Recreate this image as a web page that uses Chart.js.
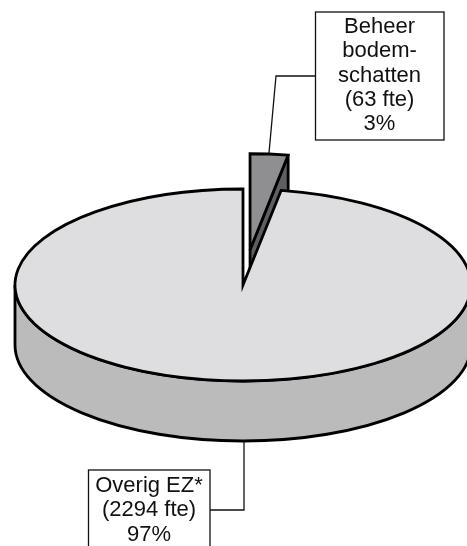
<!DOCTYPE html>
<html>
<head>
<meta charset="utf-8">
<style>
html,body{margin:0;padding:0;background:#fff;overflow:hidden;width:467px;height:546px}
#wrap{position:absolute;left:0;top:0;width:486px;height:570px}
</style>
<script src="https://cdn.jsdelivr.net/npm/chart.js@4"></script>
</head>
<body>
<div id="wrap"><canvas id="c" width="486" height="570"></canvas></div>
<script>
const categories = ["Beheer bodemschatten", "Overig EZ*"];
const fte = [63, 2294];
const labelLines = [
  ["Beheer", "bodem-", "schatten", "(63 fte)", "3%"],
  ["Overig EZ*", "(2294 fte)", "97%"]
];
const topColors = ["#8f8f91", "#dedee0"];
const sideColors = ["#5f5f61", "#bbbbbb"];
const explode = [84, 0];

const TILT = 0.421, DEPTH = 60, INK = "#000";

const pie3d = {
  id: "pie3d",
  beforeDatasetsDraw(chart) {
    const ctx = chart.ctx;
    const arcs = chart.getDatasetMeta(0).data;
    arcs.forEach((el, i) => {
      const R = el.outerRadius, a0 = el.startAngle, a1 = el.endAngle, mid = (a0 + a1) / 2;
      const cx = el.x + Math.cos(mid) * explode[i];
      const cy = el.y + Math.sin(mid) * explode[i] * TILT;
      const ry = R * TILT;
      ctx.save();
      ctx.lineWidth = 2.8; ctx.strokeStyle = INK; ctx.lineJoin = "miter";
      ctx.miterLimit = explode[i] ? 2 : 6;
      // side
      ctx.beginPath();
      if (a1 - a0 > Math.PI) {
        ctx.ellipse(cx, cy, R, ry, 0, 0, Math.PI);
        ctx.ellipse(cx, cy + DEPTH, R, ry, 0, Math.PI, 0, true);
      } else {
        const ex = cx + R * Math.cos(a1), ey = cy + ry * Math.sin(a1);
        ctx.moveTo(cx, cy); ctx.lineTo(ex, ey);
        ctx.lineTo(ex, ey + DEPTH); ctx.lineTo(cx, cy + DEPTH);
      }
      ctx.closePath();
      ctx.fillStyle = sideColors[i];
      ctx.fill(); ctx.stroke();
      // top: the library's own arc, squashed into an ellipse
      ctx.save();
      ctx.translate(cx, cy); ctx.scale(1, TILT); ctx.translate(-el.x, -el.y);
      el.draw(ctx);
      ctx.restore();
      // outline
      ctx.beginPath();
      ctx.moveTo(cx, cy);
      ctx.ellipse(cx, cy, R, ry, 0, a0, a1);
      ctx.closePath();
      ctx.stroke();
      ctx.restore();
    });
    return false;
  },
  afterDraw(chart) {
    const ctx = chart.ctx;
    ctx.save();
    ctx.strokeStyle = "#111"; ctx.lineWidth = 1.3;
    ctx.beginPath(); ctx.moveTo(315, 76); ctx.lineTo(276, 76); ctx.lineTo(269, 153); ctx.stroke();
    ctx.beginPath(); ctx.moveTo(210, 510); ctx.lineTo(244, 510); ctx.lineTo(244, 440); ctx.stroke();
    ctx.fillStyle = "#fff";
    ctx.fillRect(315, 12, 129, 128); ctx.strokeRect(315.5, 12, 128.5, 128);
    ctx.fillRect(88, 470, 122, 90); ctx.strokeRect(88.5, 470, 121.5, 90);
    ctx.fillStyle = "#111"; ctx.font = '22px "Liberation Sans"'; ctx.textAlign = "center"; ctx.textBaseline = "alphabetic";
    labelLines[0].forEach((t, i) => ctx.fillText(t, 379.5, 33 + i * 24.3));
    labelLines[1].forEach((t, i) => ctx.fillText(t, 149, 492 + i * 24.3));
    ctx.restore();
  }
};

new Chart(document.getElementById("c"), {
  type: "pie",
  data: { labels: categories, datasets: [{ data: fte, backgroundColor: topColors, borderWidth: 0 }] },
  options: {
    responsive: false, animation: false, radius: 228, rotation: 0,
    events: [],
    plugins: { legend: { display: false }, tooltip: { enabled: false } }
  },
  plugins: [pie3d]
});
</script>
</body>
</html>
